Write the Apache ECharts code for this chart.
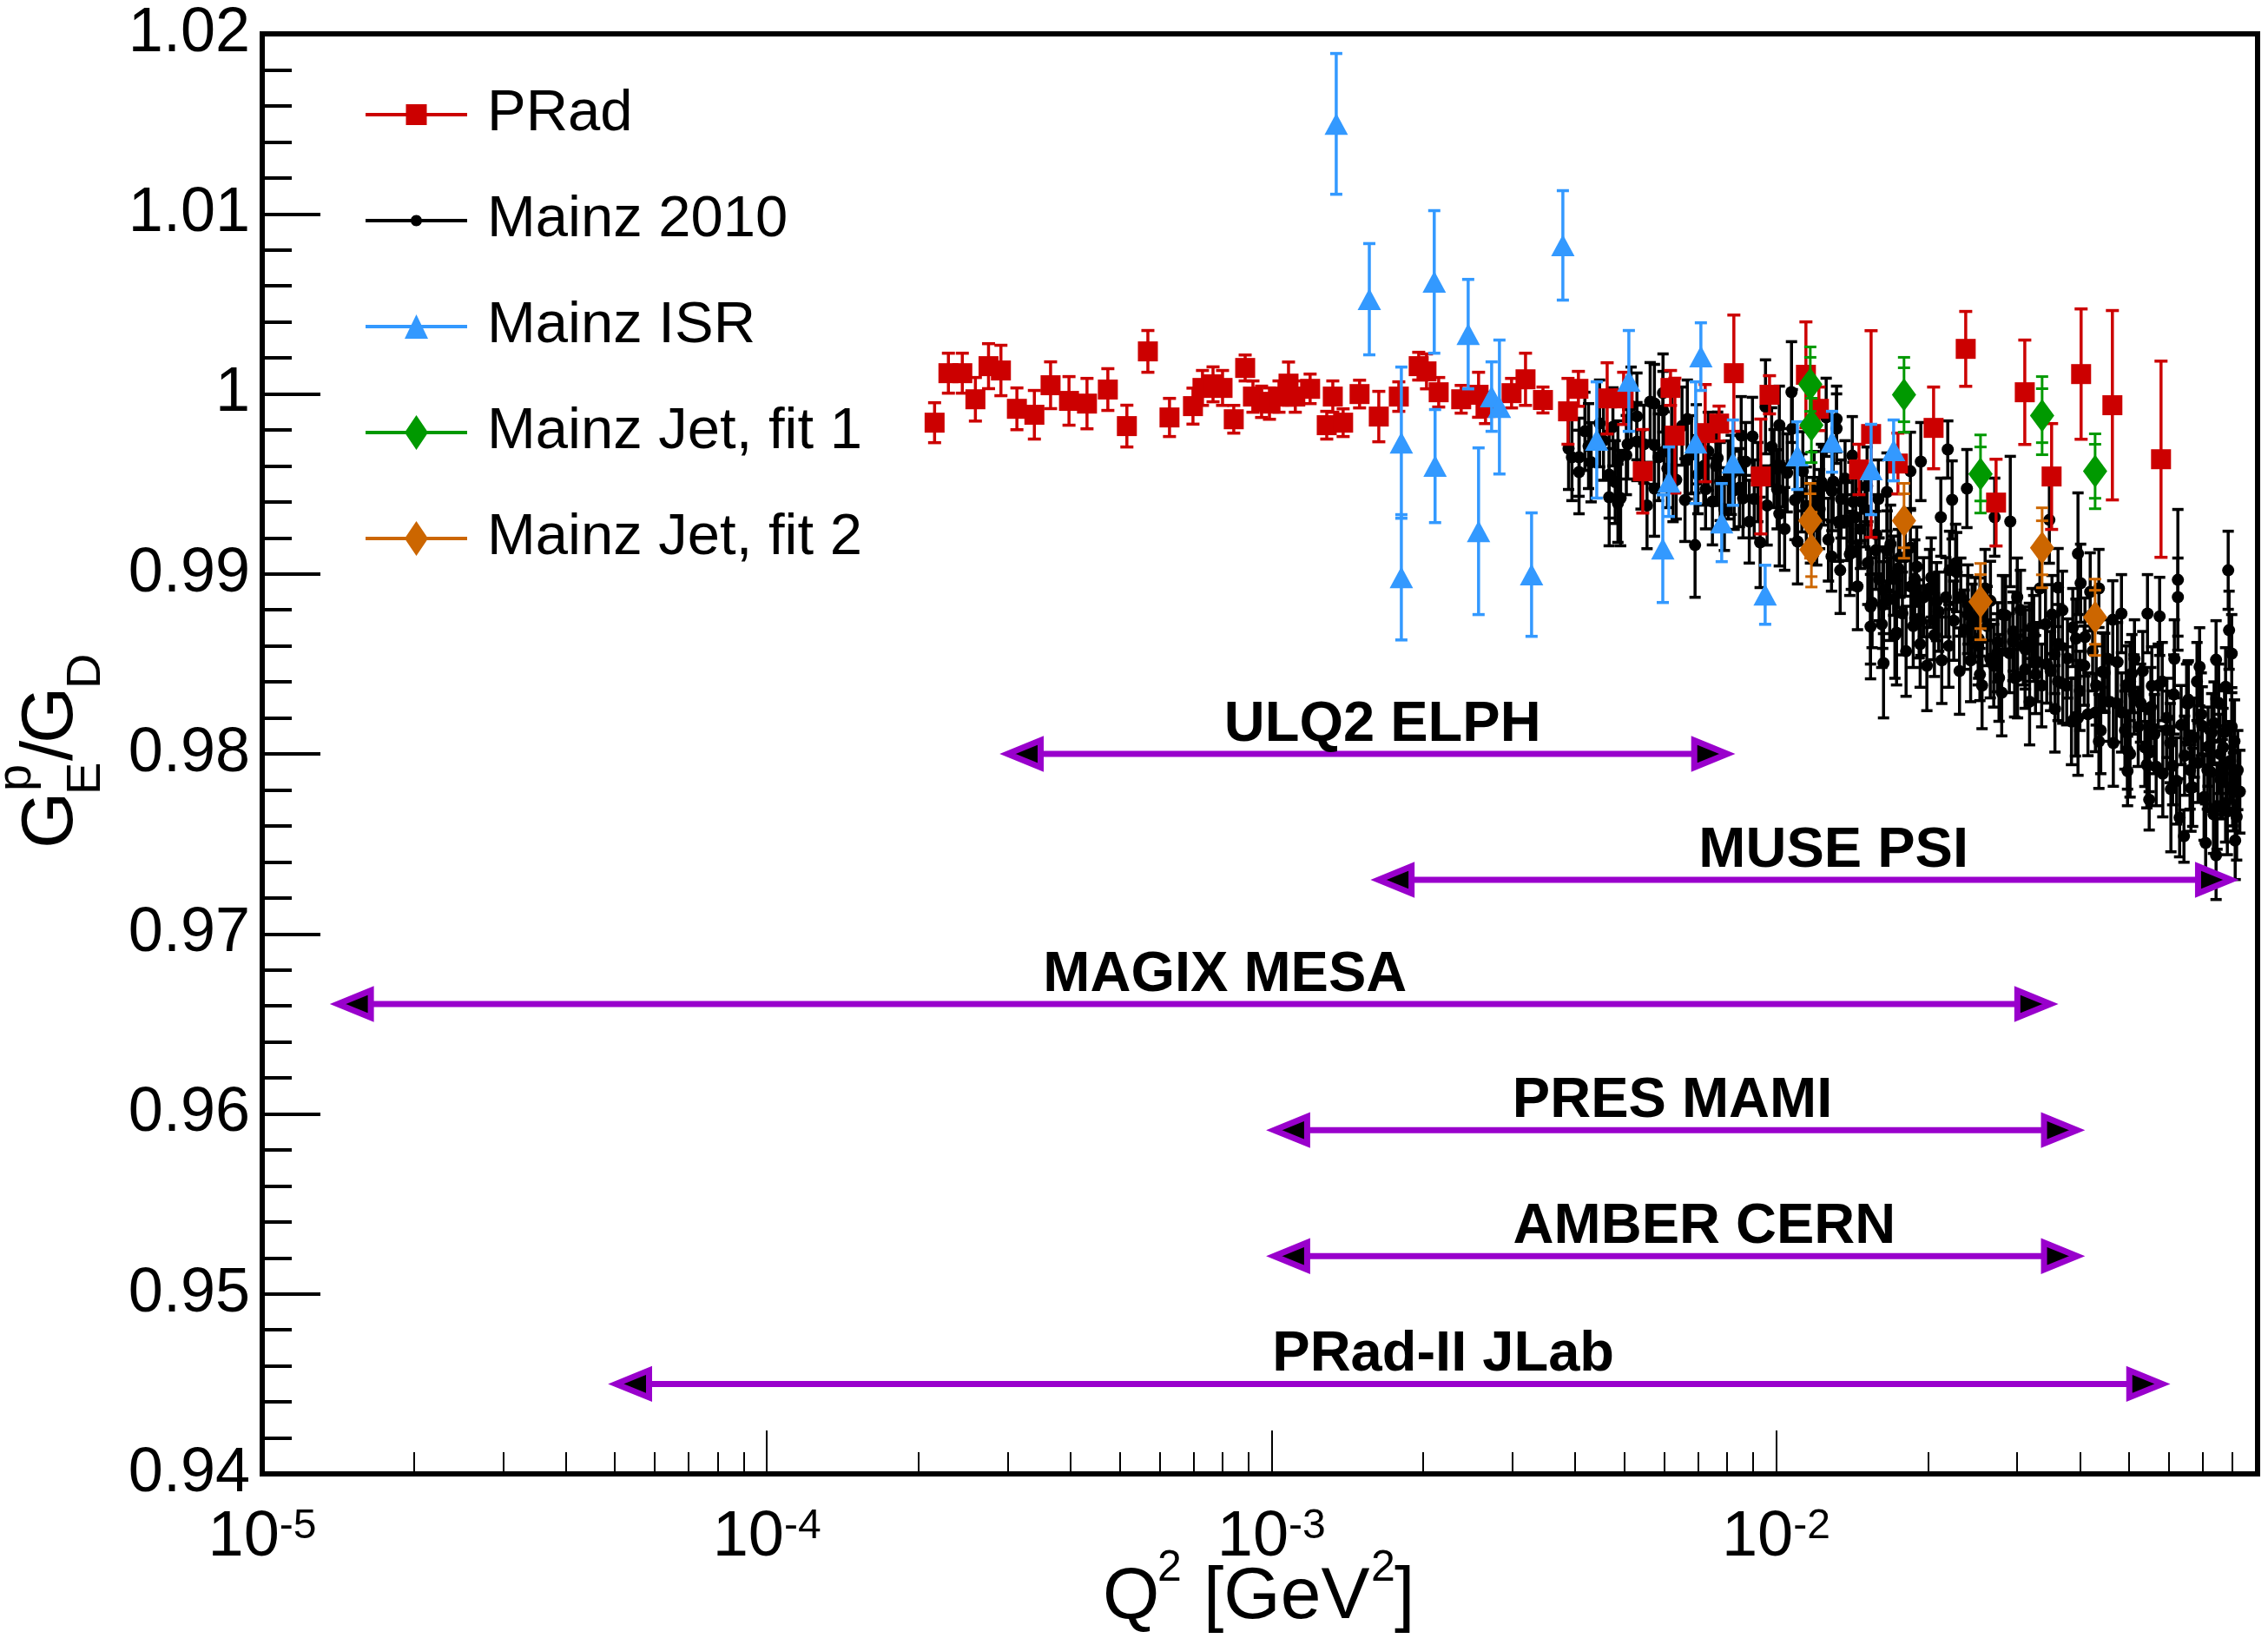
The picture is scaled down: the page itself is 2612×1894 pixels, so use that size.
<!DOCTYPE html>
<html><head><meta charset="utf-8">
<script src="https://cdn.jsdelivr.net/npm/echarts@6/dist/echarts.min.js"></script>
<style>html,body{margin:0;padding:0;background:#fff}#c{width:2612px;height:1894px}</style>
</head><body><div id="c"></div>
<script>
const FONT = '"Liberation Sans", Arial, Helvetica, sans-serif';
const xMin = 1e-5, xMax = 0.09;
const yMin = 0.94, yMax = 1.02;
const xMajorTicks = [1e-5, 1e-4, 1e-3, 1e-2];
const xTickExponents = ['-5', '-4', '-3', '-2'];
const xMinorTicks = [2e-5,3e-5,4e-5,5e-5,6e-5,7e-5,8e-5,9e-5,2e-4,3e-4,4e-4,5e-4,6e-4,7e-4,8e-4,9e-4,
  2e-3,3e-3,4e-3,5e-3,6e-3,7e-3,8e-3,9e-3,2e-2,3e-2,4e-2,5e-2,6e-2,7e-2,8e-2,9e-2];

// [Q2, GE/GD, error]
const prad = [
[2.15e-4,0.99840,0.00111],[2.29e-4,1.00115,0.00111],[2.44e-4,1.00115,0.00111],[2.59e-4,0.99970,0.00121],
[2.75e-4,1.00154,0.00125],[2.91e-4,1.00130,0.0014],[3.13e-4,0.99917,0.00116],[3.39e-4,0.99884,0.00135],
[3.65e-4,1.00048,0.0013],[3.97e-4,0.99961,0.00135],[4.31e-4,0.99946,0.0014],[4.74e-4,1.00024,0.00116],
[5.17e-4,0.99821,0.00116],[5.69e-4,1.00236,0.00116],[6.28e-4,0.99869,0.00106],[6.99e-4,0.99932,0.001],
[7.30e-4,1.00033,0.00097],[7.66e-4,1.00053,0.00097],[8.00e-4,1.00033,0.00097],[8.42e-4,0.99859,0.00077],
[8.87e-4,1.00144,0.00072],[9.19e-4,0.99985,0.00087],[9.56e-4,0.99956,0.00087],[9.91e-4,0.99946,0.00087],
[1.035e-3,0.99985,0.00087],[1.081e-3,1.00057,0.0012],[1.115e-3,0.99985,0.00087],[1.193e-3,1.00028,0.00082],
[1.287e-3,0.99826,0.00077],[1.323e-3,0.99985,0.00087],[1.387e-3,0.99840,0.00077],[1.495e-3,0.99999,0.00077],
[1.632e-3,0.99874,0.0014],[1.788e-3,0.99985,0.00082],[1.958e-3,1.00154,0.00077],[2.029e-3,1.00125,0.00097],
[2.145e-3,1.00009,0.00082],[2.377e-3,0.99970,0.00077],[2.573e-3,0.99995,0.00125],[2.656e-3,0.99922,0.00087],
[2.991e-3,1.00004,0.00082],[3.188e-3,1.00081,0.00145],[3.452e-3,0.99966,0.00072],[3.870e-3,0.99903,0.00183],
[4.058e-3,1.00028,0.00097],[4.627e-3,0.99975,0.00198],[4.988e-3,0.99975,0.00145],[5.443e-3,0.99570,0.00232],
[6.178e-3,1.00033,0.00097],[6.302e-3,0.99768,0.00319],[7.237e-3,0.99782,0.0027],[7.711e-3,0.99835,0.00097],
[8.248e-3,1.00115,0.00323],[9.328e-3,0.99541,0.00319],[9.706e-3,0.99995,0.00106],[1.146e-2,1.00106,0.00294],
[1.216e-2,0.99917,0.00121],[1.460e-2,0.99580,0.0014],[1.543e-2,0.99777,0.00574],[1.744e-2,0.99613,0.00169],
[2.052e-2,0.99811,0.00227],[2.376e-2,1.00250,0.00208],[2.729e-2,0.99396,0.00241],[3.111e-2,1.00009,0.0029],
[3.516e-2,0.99541,0.00294],[4.023e-2,1.00110,0.00362],[4.640e-2,0.99937,0.00526],[5.793e-2,0.99637,0.00545]
];

const mainz2010 = [
[3.88e-3,0.99696,0.00227],[3.94e-3,0.99648,0.00241],[4.07e-3,0.99566,0.00232],[4.07e-3,0.99648,0.00217],
[4.18e-3,0.99792,0.00217],[4.25e-3,0.99710,0.00236],[4.30e-3,0.99620,0.00220],[4.47e-3,0.99836,0.00241],
[4.55e-3,0.99740,0.00220],[4.67e-3,0.99551,0.00241],[4.67e-3,0.99426,0.0027],[4.75e-3,0.99817,0.00217],
[4.80e-3,0.99510,0.00230],[4.86e-3,0.99633,0.00217],[4.86e-3,0.99392,0.00217],[4.92e-3,0.99421,0.00265],
[5.05e-3,0.99660,0.00220],[5.08e-3,0.99720,0.00193],[5.16e-3,0.99932,0.00217],[5.30e-3,0.99875,0.00241],
[5.30e-3,0.99735,0.00217],[5.40e-3,0.99580,0.00220],[5.47e-3,0.99720,0.00217],[5.55e-3,0.99380,0.00240],
[5.63e-3,0.99957,0.00217],[5.74e-3,0.99947,0.00217],[5.74e-3,0.99715,0.00217],[5.74e-3,0.99474,0.00265],
[5.85e-3,0.99648,0.00241],[5.97e-3,0.99908,0.00217],[5.97e-3,1.00005,0.00217],[6.00e-3,0.99680,0.00220],
[6.09e-3,0.99585,0.00217],[6.21e-3,0.99778,0.00241],[6.25e-3,0.99510,0.00220],[6.34e-3,0.99522,0.00217],
[6.51e-3,0.99821,0.00217],[6.60e-3,0.99410,0.00230],[6.67e-3,0.99860,0.00217],[6.67e-3,0.99633,0.00217],
[6.80e-3,0.99662,0.00217],[6.91e-3,0.99160,0.0029],[6.95e-3,0.99720,0.00220],[7.00e-3,0.99551,0.00217],
[7.19e-3,0.99599,0.00217],[7.25e-3,0.99470,0.00220],[7.34e-3,0.99681,0.00217],[7.48e-3,0.99402,0.00241],
[7.60e-3,0.99600,0.00220],[7.66e-3,0.99643,0.00256],[7.75e-3,0.99513,0.00217],[7.90e-3,0.99360,0.00230],
[8.04e-3,0.99522,0.00217],[8.15e-3,0.99550,0.00220],[8.26e-3,0.99464,0.00217],[8.46e-3,0.99479,0.00217],
[8.53e-3,0.99768,0.00217],[8.60e-3,0.99420,0.00220],[8.70e-3,0.99624,0.00217],[8.85e-3,0.99290,0.00230],
[8.98e-3,0.99764,0.00217],[9.05e-3,0.99416,0.00217],[9.20e-3,0.99510,0.00220],[9.30e-3,0.99175,0.00251],
[9.53e-3,0.99928,0.00261],[9.60e-3,0.99380,0.00220],[9.80e-3,0.99706,0.00217],[9.91e-3,0.99585,0.00217],
[1.005e-2,0.99470,0.00220],[1.015e-2,0.99826,0.00217],[1.015e-2,0.99334,0.0029],[1.031e-2,0.99590,0.00217],
[1.040e-2,0.99250,0.00230],[1.052e-2,0.99561,0.00217],[1.073e-2,1.00010,0.0028],[1.077e-2,0.99807,0.00217],
[1.090e-2,0.99410,0.00220],[1.103e-2,0.99180,0.00236],[1.125e-2,0.99450,0.00217],[1.130e-2,0.99570,0.00220],
[1.148e-2,0.99377,0.00217],[1.170e-2,0.99280,0.00220],[1.185e-2,0.99319,0.00217],[1.190e-2,0.99460,0.00220],
[1.204e-2,0.99266,0.00217],[1.220e-2,0.99360,0.00220],[1.230e-2,0.99510,0.00210],[1.242e-2,0.99488,0.00217],
[1.257e-2,0.99870,0.00217],[1.270e-2,0.99190,0.00230],[1.288e-2,0.99097,0.00193],[1.290e-2,0.99460,0.00220],
[1.298e-2,0.99513,0.00217],[1.318e-2,0.99860,0.00183],[1.318e-2,0.99807,0.00193],[1.330e-2,0.99290,0.00220],
[1.340e-2,0.99020,0.00240],[1.345e-2,0.99416,0.00217],[1.370e-2,0.99530,0.00210],[1.382e-2,0.99291,0.00217],
[1.400e-2,0.99110,0.00230],[1.410e-2,0.99131,0.00217],[1.416e-2,0.99657,0.00217],[1.420e-2,0.99400,0.00220],
[1.439e-2,0.99315,0.00217],[1.450e-2,0.98930,0.00240],[1.470e-2,0.99250,0.00220],[1.473e-2,0.99402,0.00217],
[1.500e-2,0.99360,0.00210],[1.515e-2,0.99488,0.00217],[1.520e-2,0.99060,0.00230],[1.539e-2,0.98818,0.00319],
[1.539e-2,0.98707,0.0029],[1.550e-2,0.98840,0.00250],[1.576e-2,0.99131,0.00217],[1.580e-2,0.99220,0.00220],
[1.595e-2,0.99416,0.00217],[1.600e-2,0.98970,0.00230],[1.620e-2,0.98720,0.00240],[1.627e-2,0.98827,0.00241],
[1.633e-2,0.98909,0.00241],[1.633e-2,0.98504,0.00304],[1.659e-2,0.99455,0.00217],[1.660e-2,0.99130,0.00220],
[1.680e-2,0.98860,0.00230],[1.686e-2,0.99165,0.00217],[1.710e-2,0.98990,0.00220],[1.720e-2,0.98660,0.00240],
[1.733e-2,0.98673,0.0029],[1.747e-2,0.99030,0.00217],[1.760e-2,0.99090,0.00220],[1.780e-2,0.98780,0.00230],
[1.803e-2,0.99093,0.00217],[1.810e-2,0.98570,0.00250],[1.846e-2,0.99570,0.00217],[1.846e-2,0.99146,0.00217],
[1.850e-2,0.98930,0.00220],[1.870e-2,0.98710,0.00230],[1.883e-2,0.98972,0.00217],[1.900e-2,0.99040,0.00220],
[1.921e-2,0.98750,0.00217],[1.930e-2,0.98610,0.00240],[1.936e-2,0.99624,0.00217],[1.936e-2,0.98740,0.00193],
[1.960e-2,0.98870,0.00220],[1.990e-2,0.98490,0.00250],[2.015e-2,0.98919,0.00217],[2.030e-2,0.98980,0.00220],
[2.055e-2,0.98740,0.00217],[2.060e-2,0.98660,0.00230],[2.080e-2,0.98846,0.00217],[2.100e-2,0.98790,0.00220],
[2.121e-2,0.99315,0.00217],[2.130e-2,0.98520,0.00240],[2.170e-2,0.98870,0.00220],[2.189e-2,0.99691,0.00159],
[2.200e-2,0.98600,0.00230],[2.207e-2,0.99020,0.00217],[2.233e-2,0.99411,0.00217],[2.250e-2,0.98740,0.00220],
[2.269e-2,0.99059,0.00217],[2.280e-2,0.99010,0.00220],[2.310e-2,0.98460,0.00240],[2.323e-2,0.98871,0.00217],
[2.360e-2,0.98690,0.00220],[2.389e-2,0.99474,0.00217],[2.398e-2,0.98774,0.00217],[2.400e-2,0.98830,0.00220],
[2.430e-2,0.98520,0.00230],[2.446e-2,0.98726,0.00217],[2.480e-2,0.98760,0.00220],[2.515e-2,0.98600,0.00217],
[2.520e-2,0.98640,0.00220],[2.535e-2,0.98760,0.00217],[2.535e-2,0.98441,0.00145],[2.560e-2,0.98380,0.00240],
[2.596e-2,0.98919,0.00217],[2.620e-2,0.98710,0.00220],[2.658e-2,0.98528,0.00217],[2.660e-2,0.98850,0.00220],
[2.700e-2,0.98490,0.00230],[2.712e-2,0.99315,0.00217],[2.744e-2,0.98562,0.00217],[2.750e-2,0.98620,0.00220],
[2.766e-2,0.98422,0.00241],[2.800e-2,0.98340,0.00240],[2.810e-2,0.98774,0.00217],[2.850e-2,0.98770,0.00220],
[2.900e-2,0.98560,0.00220],[2.912e-2,0.99291,0.00362],[2.947e-2,0.98624,0.00217],[2.950e-2,0.98680,0.00220],
[2.970e-2,0.98422,0.00217],[3.006e-2,0.98871,0.00217],[3.010e-2,0.98430,0.00230],[3.050e-2,0.98800,0.00220],
[3.090e-2,0.98600,0.00217],[3.115e-2,0.98470,0.00217],[3.120e-2,0.98580,0.00220],[3.177e-2,0.98620,0.00217],
[3.180e-2,0.98290,0.00240],[3.216e-2,0.98702,0.00217],[3.240e-2,0.98660,0.00220],[3.267e-2,0.98441,0.00217],
[3.300e-2,0.98510,0.00220],[3.333e-2,0.98919,0.00217],[3.360e-2,0.98380,0.00230],[3.420e-2,0.98720,0.00220],
[3.439e-2,0.98499,0.00217],[3.480e-2,0.99300,0.00241],[3.500e-2,0.98460,0.00220],[3.522e-2,0.98774,0.00217],
[3.565e-2,0.98552,0.00217],[3.570e-2,0.98250,0.00240],[3.621e-2,0.98924,0.00217],[3.621e-2,0.98402,0.00217],
[3.630e-2,0.98610,0.00220],[3.694e-2,0.98798,0.00217],[3.700e-2,0.98390,0.00220],[3.767e-2,0.98378,0.00217],
[3.780e-2,0.98530,0.00220],[3.850e-2,0.98180,0.00240],[3.873e-2,0.98702,0.00217],[3.920e-2,0.98205,0.00217],
[3.930e-2,0.98640,0.00220],[3.966e-2,0.99112,0.00338],[3.966e-2,0.98200,0.00319],[4.000e-2,0.98350,0.00220],
[4.014e-2,0.98948,0.00217],[4.080e-2,0.98490,0.00220],[4.094e-2,0.98649,0.00217],[4.150e-2,0.98220,0.00230],
[4.193e-2,0.98900,0.00217],[4.240e-2,0.98570,0.00220],[4.294e-2,0.98229,0.00217],[4.310e-2,0.98380,0.00220],
[4.363e-2,0.98919,0.00217],[4.363e-2,0.98069,0.00261],[4.400e-2,0.98130,0.00240],[4.433e-2,0.98456,0.00217],
[4.480e-2,0.98450,0.00220],[4.539e-2,0.98528,0.00217],[4.570e-2,0.98290,0.00220],[4.648e-2,0.98745,0.00217],
[4.660e-2,0.98060,0.00240],[4.722e-2,0.98282,0.00217],[4.750e-2,0.98510,0.00220],[4.836e-2,0.98779,0.00217],
[4.840e-2,0.98230,0.00220],[4.913e-2,0.98132,0.00217],[4.940e-2,0.98380,0.00220],[4.972e-2,0.98021,0.00217],
[4.972e-2,0.97905,0.00193],[5.030e-2,0.98000,0.00240],[5.031e-2,0.98402,0.00217],[5.071e-2,0.98446,0.00217],
[5.120e-2,0.98330,0.00220],[5.132e-2,0.98528,0.00217],[5.220e-2,0.98150,0.00220],[5.276e-2,0.98282,0.00217],
[5.330e-2,0.98460,0.00220],[5.381e-2,0.98036,0.00217],[5.430e-2,0.97940,0.00240],[5.446e-2,0.98779,0.00217],
[5.489e-2,0.98007,0.00217],[5.489e-2,0.97746,0.00169],[5.530e-2,0.98260,0.00220],[5.555e-2,0.98378,0.00217],
[5.620e-2,0.98110,0.00220],[5.666e-2,0.97929,0.00217],[5.720e-2,0.98380,0.00230],[5.756e-2,0.98764,0.00217],
[5.825e-2,0.98402,0.00217],[5.840e-2,0.97890,0.00240],[5.942e-2,0.98132,0.00217],[5.950e-2,0.98200,0.00220],
[6.040e-2,0.98060,0.00220],[6.060e-2,0.97804,0.00348],[6.109e-2,0.97934,0.00217],[6.140e-2,0.98330,0.00220],
[6.157e-2,0.98528,0.00217],[6.220e-2,0.97850,0.00240],[6.256e-2,0.98967,0.00391],[6.256e-2,0.98871,0.00217],
[6.306e-2,0.97645,0.00217],[6.350e-2,0.98160,0.00220],[6.432e-2,0.97543,0.00145],[6.450e-2,0.97990,0.00220],
[6.510e-2,0.98282,0.00217],[6.550e-2,0.98280,0.00230],[6.561e-2,0.98301,0.00217],[6.613e-2,0.97910,0.00217],
[6.640e-2,0.97810,0.00240],[6.692e-2,0.97814,0.00217],[6.740e-2,0.98090,0.00220],[6.826e-2,0.98402,0.00217],
[6.860e-2,0.97950,0.00220],[6.908e-2,0.98484,0.00217],[6.960e-2,0.98220,0.00230],[6.991e-2,0.98156,0.00217],
[7.050e-2,0.97760,0.00240],[7.101e-2,0.97505,0.00217],[7.158e-2,0.97910,0.00217],[7.180e-2,0.98040,0.00220],
[7.260e-2,0.97900,0.00220],[7.301e-2,0.98118,0.00217],[7.359e-2,0.97664,0.00217],[7.380e-2,0.98170,0.00230],
[7.447e-2,0.97437,0.00246],[7.447e-2,0.98523,0.00217],[7.480e-2,0.97710,0.00240],[7.537e-2,0.98282,0.00217],
[7.580e-2,0.98000,0.00220],[7.596e-2,0.97857,0.00217],[7.660e-2,0.97860,0.00220],[7.687e-2,0.98036,0.00217],
[7.740e-2,0.98120,0.00230],[7.778e-2,0.97727,0.00217],[7.778e-2,0.98373,0.00217],[7.840e-2,0.97680,0.00240],
[7.871e-2,0.99020,0.00217],[7.902e-2,0.98687,0.00217],[7.940e-2,0.97960,0.00220],[7.998e-2,0.98557,0.00217],
[7.998e-2,0.98151,0.00217],[8.030e-2,0.97820,0.00220],[8.061e-2,0.97789,0.00217],[8.100e-2,0.98070,0.00230],
[8.126e-2,0.97519,0.00217],[8.180e-2,0.97650,0.00240],[8.220e-2,0.97910,0.00220],[8.300e-2,0.97790,0.00230]
];

const mainzISR = [
[1.344e-3,1.01500,0.00391],[1.563e-3,1.00526,0.00309],[1.809e-3,0.99729,0.0042],[1.809e-3,0.98981,0.00348],
[2.102e-3,1.00622,0.00396],[2.110e-3,0.99599,0.00314],[2.454e-3,1.00332,0.00304],[2.573e-3,0.99237,0.00463],
[2.731e-3,0.99985,0.00193],[2.830e-3,0.99927,0.00372],[3.277e-3,0.98996,0.00343],[3.780e-3,1.00825,0.00304],
[4.412e-3,0.99744,0.00323],[5.108e-3,1.00072,0.0028],[5.964e-3,0.99140,0.00299],[6.132e-3,0.99512,0.00193],
[6.929e-3,0.99729,0.00338],[7.096e-3,1.00207,0.00188],[7.803e-3,0.99285,0.00217],[8.214e-3,0.99618,0.00237],
[9.515e-3,0.98884,0.00164],[1.102e-2,0.99657,0.00188],[1.291e-2,0.99734,0.00169],[1.543e-2,0.99580,0.00251],
[1.710e-2,0.99686,0.00169]
];

// [Q2, value, total error, stat error]
const jetFit1 = [
[1.169e-2,1.00053,0.00208,0.0015],[1.175e-2,0.99826,0.00208,0.0015],[1.793e-2,0.99995,0.00208,0.0015],
[2.542e-2,0.99555,0.00217,0.0015],[3.367e-2,0.99879,0.00217,0.0015],[4.288e-2,0.99570,0.00208,0.0015]
];
const jetFit2 = [
[1.169e-2,0.99295,0.00208,0.0015],[1.175e-2,0.99135,0.00208,0.0015],[1.793e-2,0.99295,0.00208,0.0015],
[2.542e-2,0.98846,0.00212,0.0015],[3.367e-2,0.99145,0.00222,0.0015],[4.288e-2,0.98759,0.00212,0.0015]
];

// [label, Q2 from, Q2 to, y, label centre Q2]
const projects = [
['ULQ2 ELPH', 2.89e-4, 8.31e-3, 0.9800, 1.66e-3],
['MUSE PSI', 1.57e-3, 8.28e-2, 0.9730, 1.30e-2],
['MAGIX MESA', 1.36e-5, 3.63e-2, 0.9661, 8.09e-4],
['PRES MAMI', 9.75e-4, 4.10e-2, 0.9591, 6.23e-3],
['AMBER CERN', 9.75e-4, 4.10e-2, 0.9521, 7.21e-3],
['PRad-II JLab', 4.84e-5, 6.05e-2, 0.9450, 2.19e-3]
];

const seriesNames = ['PRad', 'Mainz 2010', 'Mainz ISR', 'Mainz Jet, fit 1', 'Mainz Jet, fit 2'];
const colors = { 'PRad': '#cc0000', 'Mainz 2010': '#000000', 'Mainz ISR': '#3399ff', 'Mainz Jet, fit 1': '#009900', 'Mainz Jet, fit 2': '#cc6600' };
const purple = '#9900cc';

const corners = 'M0,0 L0.01,0 L0,0.01 Z M117,42 L116.99,42 L117,41.99 Z ';
const lineP = 'M0,19 L117,19 L117,23 L0,23 Z ';
const icons = {
  'PRad': 'path://' + corners + lineP + 'M46.5,9 L70.5,9 L70.5,33 L46.5,33 Z',
  'Mainz 2010': 'path://' + corners + lineP + 'M52,21 C52,17.4 54.9,14.5 58.5,14.5 C62.1,14.5 65,17.4 65,21 C65,24.6 62.1,27.5 58.5,27.5 C54.9,27.5 52,24.6 52,21 Z',
  'Mainz ISR': 'path://' + corners + lineP + 'M58.5,7 L72,35 L45,35 Z',
  'Mainz Jet, fit 1': 'path://' + corners + lineP + 'M58.5,1 L72,21 L58.5,41 L45,21 Z',
  'Mainz Jet, fit 2': 'path://' + corners + lineP + 'M58.5,1 L72,21 L58.5,41 L45,21 Z'
};

function errorBars(name, data, capHalf, lw, z) {
  const color = colors[name];
  return {
    type: 'custom', silent: true, clip: true, z: z,
    data: data, encode: { x: 0, y: 1 },
    renderItem: function (params, api) {
      const x = api.value(0), y = api.value(1), e = api.value(2);
      const t = api.coord([x, y + e]), b = api.coord([x, y - e]);
      const st = { stroke: color, lineWidth: lw };
      const ch = [
        { type: 'line', shape: { x1: t[0], y1: t[1], x2: b[0], y2: b[1] }, style: st },
        { type: 'line', shape: { x1: t[0] - capHalf, y1: t[1], x2: t[0] + capHalf, y2: t[1] }, style: st },
        { type: 'line', shape: { x1: b[0] - capHalf, y1: b[1], x2: b[0] + capHalf, y2: b[1] }, style: st }
      ];
      const d = data[params.dataIndex];
      if (d.length > 3) {
        const ti = api.coord([x, y + d[3]]), bi = api.coord([x, y - d[3]]);
        ch.push({ type: 'line', shape: { x1: ti[0] - capHalf, y1: ti[1], x2: ti[0] + capHalf, y2: ti[1] }, style: st });
        ch.push({ type: 'line', shape: { x1: bi[0] - capHalf, y1: bi[1], x2: bi[0] + capHalf, y2: bi[1] }, style: st });
      }
      return { type: 'group', children: ch };
    }
  };
}
function markers(name, data, symbol, size, z) {
  return {
    name: name, type: 'scatter', data: data, encode: { x: 0, y: 1 },
    symbol: symbol, symbolSize: size, z: z, silent: true,
    itemStyle: { color: colors[name], opacity: 1 },
    emphasis: { disabled: true }
  };
}

const arrowSeries = {
  type: 'custom', silent: true, clip: false, z: 20,
  data: projects.map(p => [p[1], p[2], p[3], p[4]]),
  encode: { x: [0, 1], y: 2 },
  renderItem: function (params, api) {
    const p = projects[params.dataIndex];
    const a = api.coord([p[1], p[3]]), b = api.coord([p[2], p[3]]), lc = api.coord([p[4], p[3]]);
    const y = a[1];
    const headStyle = { fill: '#000', stroke: purple, lineWidth: 7, lineJoin: 'miter', miterLimit: 10 };
    return {
      type: 'group', children: [
        { type: 'line', shape: { x1: a[0] + 40, y1: y, x2: b[0] - 40, y2: y }, style: { stroke: purple, lineWidth: 7 } },
        { type: 'polygon', shape: { points: [[a[0] + 9.5, y], [a[0] + 47.5, y - 15.5], [a[0] + 47.5, y + 15.5]] }, style: headStyle },
        { type: 'polygon', shape: { points: [[b[0] - 9.5, y], [b[0] - 47.5, y - 15.5], [b[0] - 47.5, y + 15.5]] }, style: headStyle },
        { type: 'text', x: lc[0], y: y - 33, style: { text: p[0], font: 'bold 65px ' + FONT, fill: '#000', align: 'center', verticalAlign: 'middle' } }
      ]
    };
  }
};

const chart = echarts.init(document.getElementById('c'), null, { renderer: 'canvas' });
chart.setOption({
  animation: false,
  backgroundColor: '#fff',
  grid: { left: 302, right: 12, top: 39, bottom: 197, show: true, borderColor: '#000', borderWidth: 6, backgroundColor: 'transparent' },
  xAxis: [
    {
      type: 'log', logBase: 10, min: xMin, max: xMax, position: 'bottom',
      axisLine: { show: true, lineStyle: { color: '#000', width: 6 } },
      axisTick: { show: true, inside: true, length: 50, lineStyle: { color: '#000', width: 2 }, customValues: xMajorTicks },
      axisLabel: {
        customValues: xMajorTicks, margin: 37, color: '#000',
        formatter: function (v) {
          let idx = -1;
          xMajorTicks.forEach(function (t, i) { if (Math.abs(Math.log10(t) - Math.log10(v)) < 1e-6) idx = i; });
          return idx < 0 ? '' : '{b|10}{s|' + xTickExponents[idx] + '}';
        },
        rich: {
          b: { fontSize: 74, fontFamily: FONT, color: '#000', lineHeight: 74 },
          s: { fontSize: 48, fontFamily: FONT, color: '#000', lineHeight: 18, verticalAlign: 'top' }
        }
      },
      splitLine: { show: false }, minorTick: { show: false }
    },
    {
      type: 'log', logBase: 10, min: xMin, max: xMax, position: 'bottom', offset: 0,
      axisLine: { show: false },
      axisTick: { show: true, inside: true, length: 25, lineStyle: { color: '#000', width: 2 }, customValues: xMinorTicks },
      axisLabel: { show: false }, splitLine: { show: false }
    }
  ],
  yAxis: {
    type: 'value', min: yMin, max: yMax, interval: 0.01,
    axisLine: { show: true, lineStyle: { color: '#000', width: 6 } },
    axisTick: { show: true, inside: true, length: 67, lineStyle: { color: '#000', width: 4 } },
    minorTick: { show: true, splitNumber: 5, length: 34, lineStyle: { color: '#000', width: 4 } },
    axisLabel: { fontSize: 72, fontFamily: FONT, color: '#000', margin: 14 },
    splitLine: { show: false }
  },
  legend: {
    orient: 'vertical', left: 416, top: 92, itemWidth: 117, itemHeight: 42, itemGap: 52,
    selectedMode: false,
    textStyle: { fontSize: 67, fontFamily: FONT, color: '#000', lineHeight: 70, padding: [0, 0, 0, 18] },
    data: seriesNames.map(n => ({ name: n, icon: icons[n], itemStyle: { color: colors[n] } }))
  },
  series: [
    errorBars('Mainz 2010', mainz2010, 6.5, 3.5, 2),
    markers('Mainz 2010', mainz2010, 'circle', 14, 3),
    errorBars('PRad', prad, 7.5, 3.5, 4),
    markers('PRad', prad, 'rect', 23, 5),
    errorBars('Mainz ISR', mainzISR, 7, 3.5, 6),
    markers('Mainz ISR', mainzISR, 'triangle', [27, 25], 7),
    errorBars('Mainz Jet, fit 1', jetFit1, 7, 3, 8),
    markers('Mainz Jet, fit 1', jetFit1, 'diamond', [28, 38], 9),
    errorBars('Mainz Jet, fit 2', jetFit2, 7, 3, 8),
    markers('Mainz Jet, fit 2', jetFit2, 'diamond', [28, 38], 9),
    arrowSeries
  ],
  graphic: [
    {
      type: 'group', x: 90, y: 977, rotation: Math.PI / 2, children: [
        { type: 'text', x: 0, y: -30, style: { text: 'G', font: '84px ' + FONT, fill: '#000', verticalAlign: 'middle' } },
        { type: 'text', x: 62, y: 10, style: { text: 'E', font: '56px ' + FONT, fill: '#000', verticalAlign: 'middle' } },
        { type: 'text', x: 66, y: -70, style: { text: 'p', font: '56px ' + FONT, fill: '#000', verticalAlign: 'middle' } },
        { type: 'text', x: 101, y: -30, style: { text: '/', font: '84px ' + FONT, fill: '#000', verticalAlign: 'middle' } },
        { type: 'text', x: 121, y: -30, style: { text: 'G', font: '84px ' + FONT, fill: '#000', verticalAlign: 'middle' } },
        { type: 'text', x: 184, y: 10, style: { text: 'D', font: '56px ' + FONT, fill: '#000', verticalAlign: 'middle' } }
      ]
    },
    {
      type: 'group', x: 0, y: 0, children: [
        { type: 'text', x: 1270, y: 1840, style: { text: 'Q', font: '84px ' + FONT, fill: '#000', verticalAlign: 'middle' } },
        { type: 'text', x: 1333, y: 1806, style: { text: '2', font: '50px ' + FONT, fill: '#000', verticalAlign: 'middle' } },
        { type: 'text', x: 1386, y: 1840, style: { text: '[GeV', font: '84px ' + FONT, fill: '#000', verticalAlign: 'middle' } },
        { type: 'text', x: 1579, y: 1806, style: { text: '2', font: '50px ' + FONT, fill: '#000', verticalAlign: 'middle' } },
        { type: 'text', x: 1606, y: 1840, style: { text: ']', font: '84px ' + FONT, fill: '#000', verticalAlign: 'middle' } }
      ]
    }
  ]
});
</script>
</body></html>
